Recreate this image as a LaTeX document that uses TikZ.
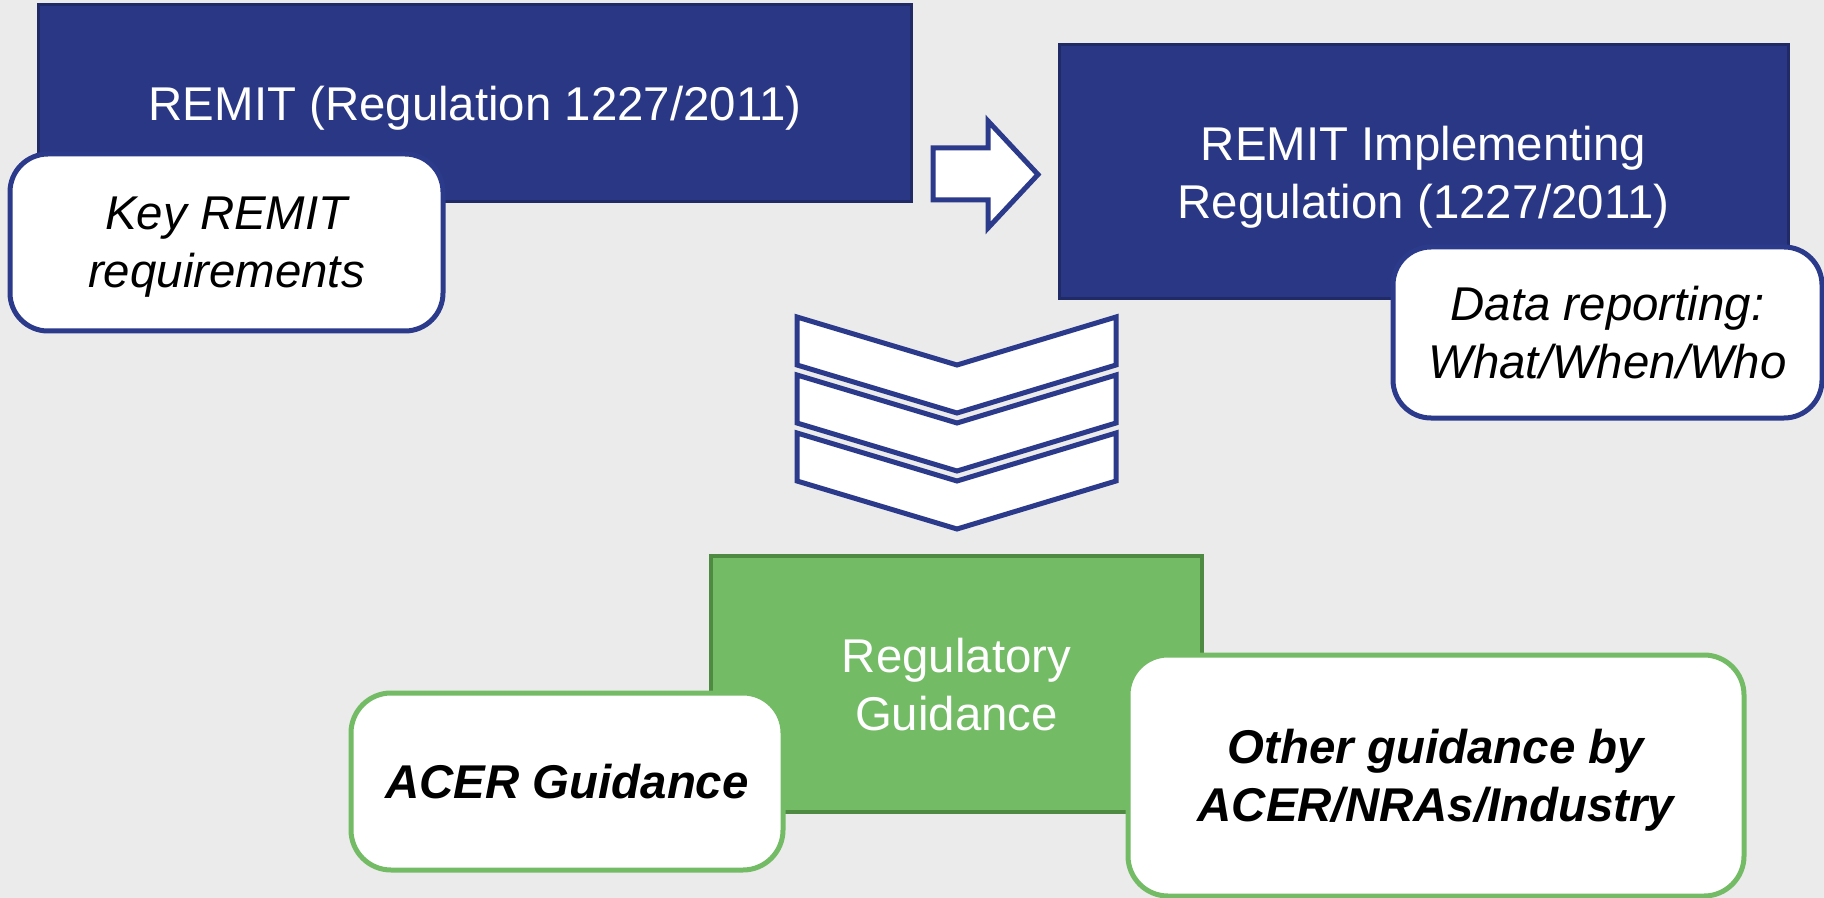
\documentclass[tikz,border=0pt]{standalone}
\usepackage{fontspec}
\setmainfont{Liberation Sans}
\definecolor{bg}{HTML}{EBEBEB}
\definecolor{navy}{HTML}{2A3784}
\definecolor{navyedge}{HTML}{1F2A66}
\definecolor{navyline}{HTML}{2B3A8A}
\definecolor{gfill}{HTML}{74BB65}
\definecolor{gedge}{HTML}{4F8A43}
\begin{document}
\begin{tikzpicture}[x=0.5pt,y=-0.5pt,
  txt/.style={font=\fontsize{23.7pt}{29pt}\selectfont, align=center, inner sep=0pt, text depth=0pt},
  navybox/.style={txt, rectangle, fill=navy, draw=navyedge, line width=1.5pt, text=white},
  greenbox/.style={txt, rectangle, fill=gfill, draw=gedge, line width=1.8pt, text=white},
  navytag/.style={txt, rectangle, rounded corners=19pt, fill=white, draw=navyline, line width=2.5pt, text=black},
  greentag/.style={txt, rectangle, rounded corners=20pt, fill=white, draw=gfill, line width=2.5pt, text=black},
  shapeline/.style={fill=white, draw=navyline, line width=2.5pt, line join=miter}
]
\fill[bg] (0,0) rectangle (1824,898);
\useasboundingbox (0,0) rectangle (1824,898);

% top-left
\node[navybox, minimum width=436.25pt, minimum height=98.5pt] (remit) at (475,103.5) {REMIT (Regulation 1227/2011)};
\node[navytag, minimum width=216.5pt, minimum height=88.5pt] (key) at (226.5,242.5) {\itshape Key REMIT\\\itshape requirements};

% top-right
\node[navybox, minimum width=364.5pt, minimum height=127pt] (impl) at (1423.5,172) {REMIT Implementing\\Regulation (1227/2011)};
\node[navytag, minimum width=214.5pt, minimum height=85.5pt] (data) at (1607.5,332.5) {\itshape Data reporting:\\\itshape What/When/Who};

% block arrow
\draw[shapeline] (933,148) -- (988,148) -- (988,121) -- (1038,174.5) -- (988,228) -- (988,200) -- (933,200) -- cycle;

% chevrons
\foreach \d in {0,58,116}{
  \draw[shapeline] (797,317+\d) -- (957,365+\d) -- (1116,317+\d) -- (1116,365+\d) -- (957,413+\d) -- (797,365+\d) -- cycle;
}

% bottom
\node[greenbox, minimum width=245.5pt, minimum height=128pt] (reg) at (956.5,684) {Regulatory\\Guidance};
\node[greentag, minimum width=216pt, minimum height=88.5pt] (acer) at (567,781.5) {\bfseries\itshape ACER Guidance};
\node[greentag, minimum width=308pt, minimum height=120.5pt] (other) at (1436,775.5) {\bfseries\itshape Other guidance by\\\bfseries\itshape ACER/NRAs/Industry};
\end{tikzpicture}
\end{document}
